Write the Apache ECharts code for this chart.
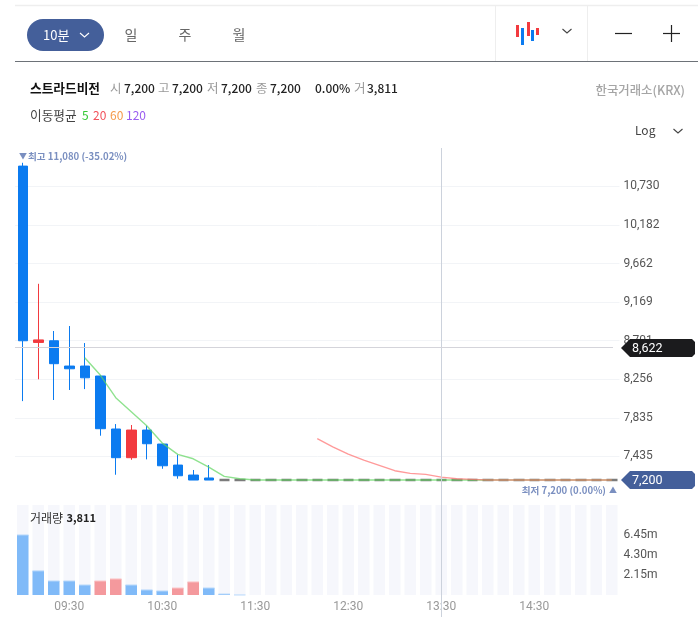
<!DOCTYPE html>
<html>
<head>
<meta charset="utf-8">
<style>html,body{margin:0;padding:0;background:#fff}#c{width:698px;height:617px}</style>
<script src="https://cdn.jsdelivr.net/npm/echarts@6/dist/echarts.min.js"></script>
</head>
<body>
<div id="c"></div>
<script>
const times = ['09:00','09:10','09:20','09:30','09:40','09:50','10:00','10:10','10:20','10:30','10:40','10:50','11:00','11:10','11:20','11:30','11:40','11:50','12:00','12:10','12:20','12:30','12:40','12:50','13:00','13:10','13:20','13:30','13:40','13:50','14:00','14:10','14:20','14:30','14:40','14:50','15:00','15:10','15:20'];
const opens  = [11030,8680,8700,8406,8406,8293,7717,7422,7706,7561,7348,7249,7220];
const closes = [8700,8710,8433,8375,8273,7720,7422,7706,7564,7341,7242,7200,7200];
const lows   = [8015,8256,8027,8137,8147,7647,7252,7401,7405,7311,7213,7200,7200];
const highs  = [11080,9400,8816,8876,8673,8300,7769,7759,7751,7561,7452,7299,7348];
const flatPrices = [null,null,null,null,null,null,null,null,null,null,null,null,null,7200,7200,7200,7200,7200,7200,7200,7200,7200,7200,7200,7200,7200,7200,7200,7200,7200,7200,7200,7200,7200,7200,7200,7200,7200,7200];
const ma5  = [null,null,null,null,8502,8304,8052,7900,7751,7571,7456,7411,7328,7236,7213,7200,7200,7200,7200,7200,7200,7200,7200,7200,7200,7200,7200,7200,7200,7200,7200,7200,7200,7200,7200,7200,7200,7200,7200];
const ma20 = [null,null,null,null,null,null,null,null,null,null,null,null,null,null,null,null,null,null,null,7616,7533,7459,7398,7345,7292,7266,7256,7229,7213,7207,7200,7200,7200,7200,7200,7200,7200,7200,7200];
const volumes = [6430000,2580000,1500000,1500000,1070000,1500000,1720000,1070000,540000,430000,750000,1400000,750000,100000,3811];
const volumeUp = [0,0,0,0,0,1,1,0,0,0,1,1,0,0,0];
const priceTicks = [10730,10182,9662,9169,8701,8256,7835,7435];
const volumeTicks = [2150000,4300000,6450000];
const crossTime = '13:30';
const crossPrice = 8622;
const lastPrice = 7200;

const FONT = 'Roboto, "Noto Sans CJK KR", sans-serif';
const KFONT = '"Noto Sans CJK KR", Roboto, sans-serif';
const fmt = v => Math.round(v).toLocaleString('en-US');

function txt(x, y, text, fill, size, weight, align) {
  return {type:'text', z:50, silent:true, style:{x, y, text, fill, font:(weight||400)+' '+size+'px '+KFONT, textAlign:align||'left', textVerticalAlign:'middle'}};
}
function line(x1,y1,x2,y2,stroke,w){
  return {type:'line', z:50, silent:true, shape:{x1,y1,x2,y2}, style:{stroke, lineWidth:w||1}};
}
function chevron(x,y,stroke){
  return {type:'polyline', z:50, silent:true, shape:{points:[[x-4.5,y-2],[x,y+2],[x+4.5,y-2]]}, style:{stroke, lineWidth:1.1, fill:null}};
}
function bar(x,y,w,h,fill){
  return {type:'rect', z:50, silent:true, shape:{x,y,width:w,height:h}, style:{fill}};
}

const chrome = [
  line(15,5.5,698,5.5,'#eeeeee',1.5),
  line(15,61.5,698,61.5,'#6d7278',1.2),
  line(495.5,6,495.5,61,'#eeeeee',1),
  line(587.5,6,587.5,61,'#eeeeee',1),
  {type:'rect', z:50, silent:true, shape:{x:27,y:19,width:77,height:32,r:16}, style:{fill:'#445f9a'}},
  txt(43,35,'10분','#ffffff',13,400),
  chevron(84.5,35,'#ffffff'),
  txt(131,35,'일','#666666',14,400,'center'),
  txt(185,35,'주','#666666',14,400,'center'),
  txt(239,35,'월','#666666',14,400,'center'),
  bar(516,25,3,12,'#f23a3f'), bar(521,28,3,17,'#0b7bf0'), bar(527,22,3,14,'#f23a3f'), bar(531,30,3,11,'#0b7bf0'), bar(536,28,3,7,'#f23a3f'),
  chevron(567,31,'#444444'),
  line(615,33.5,632,33.5,'#222222',1.2),
  line(663,33.5,680,33.5,'#222222',1.2),
  line(671.5,25,671.5,42,'#222222',1.2),
  txt(30,88,'스트라드비전','#111111',12.7,700),
  txt(110,88,'시','#999999',12.5), txt(124,88,'7,200','#222222',12,500),
  txt(158,88,'고','#999999',12.5), txt(172,88,'7,200','#222222',12,500),
  txt(207,88,'저','#999999',12.5), txt(221,88,'7,200','#222222',12,500),
  txt(256,88,'종','#999999',12.5), txt(270,88,'7,200','#222222',12,500),
  txt(315,88,'0.00%','#222222',12,500),
  txt(354,88,'거','#999999',12.5), txt(367,88,'3,811','#222222',12,500),
  txt(685,90,'한국거래소(KRX)','#a5a5a5',12.4,500,'right'),
  txt(30,115,'이동평균','#444444',12.7),
  txt(82,115,'5','#35c935',12), txt(93,115,'20','#f2505a',12), txt(110,115,'60','#f59a4a',12), txt(126,115,'120','#9a5cf0',12),
  txt(635,130,'Log','#444444',12),
  chevron(678,131,'#444444'),
  txt(19,156,'▼','#7a8fc0',8,700),
  txt(28,156,'최고 11,080 (-35.02%)','#7a8fc0',9.6,700),
  txt(606,490,'최저 7,200 (0.00%)','#7a8fc0',9.6,700,'right'),
  txt(609,490,'▲','#7a8fc0',8,700),
  {type:'text', z:50, silent:true, style:{x:30,y:518,text:'{a|거래량} {b|3,811}', textVerticalAlign:'middle', rich:{a:{fill:'#333333',font:'400 12px '+KFONT},b:{fill:'#222222',font:'700 11px '+KFONT}}}}
];

const chart = echarts.init(document.getElementById('c'), null, {renderer:'canvas'});
chart.setOption({
  animation:false,
  backgroundColor:'#ffffff',
  textStyle:{fontFamily:FONT},
  grid:[
    {left:15, width:604.5, top:150, height:347},
    {left:15, width:604.5, top:505, height:90}
  ],
  xAxis:[
    {type:'category', data:times, gridIndex:0, show:false, boundaryGap:true},
    {type:'category', data:times, gridIndex:1, boundaryGap:true,
     axisLine:{show:false}, axisTick:{show:false},
     axisLabel:{color:'#999999', fontSize:12, margin:6, fontFamily:FONT, interval:(i,v)=>v.endsWith(':30')}}
  ],
  yAxis:[
    {type:'log', logBase:10, gridIndex:0, min:7036, max:11274, position:'right',
     axisLine:{show:false},
     axisTick:{show:false, customValues:priceTicks},
     splitLine:{show:true, lineStyle:{color:'#f2f4f7', width:1}},
     axisLabel:{show:true, customValues:priceTicks, color:'#555555', fontSize:12, margin:4, fontFamily:FONT, formatter:fmt}},
    {type:'value', gridIndex:1, min:0, max:9640000, position:'right',
     axisLine:{show:false}, splitLine:{show:false},
     axisTick:{show:false, customValues:volumeTicks},
     axisLabel:{customValues:volumeTicks, color:'#555555', fontSize:12, margin:4, fontFamily:FONT, formatter:v=>(v/1e6).toFixed(2)+'m'}}
  ],
  series:[
    {name:'price', type:'candlestick', xAxisIndex:0, yAxisIndex:0, barWidth:10, z:3,
     data:opens.map((o,i)=>[o,closes[i],lows[i],highs[i]]),
     itemStyle:{color:'#f23a3f', color0:'#0b7bf0', borderColor:'#f23a3f', borderColor0:'#0b7bf0', borderWidth:1}},
    {name:'flat', type:'candlestick', xAxisIndex:0, yAxisIndex:0, barWidth:11, z:3,
     data:flatPrices.map(p=>p==null?['-','-','-','-']:[p,p,p,p]),
     itemStyle:{color:'#7b7b7b', color0:'#7b7b7b', borderColor:'#7b7b7b', borderColor0:'#7b7b7b', borderColorDoji:'#7b7b7b', borderWidth:2.5}},
    {name:'MA5', type:'line', xAxisIndex:0, yAxisIndex:0, data:ma5, showSymbol:false, symbol:'none', z:4,
     lineStyle:{color:'#5fd65f', width:1.4, opacity:0.7}},
    {name:'MA20', type:'line', xAxisIndex:0, yAxisIndex:0, data:ma20, showSymbol:false, symbol:'none', z:4,
     lineStyle:{color:'#ff6f6f', width:1.4, opacity:0.7}},
    {name:'volume', type:'bar', xAxisIndex:1, yAxisIndex:1, barWidth:11.5, z:2,
     showBackground:true, backgroundStyle:{color:'#f6f7fc'},
     data:times.map((t,i)=>({value:i<volumes.length?volumes[i]:0, itemStyle:{color:volumeUp[i]?'#f4999d':'#80baf8'}}))},
    {name:'volumeCap', type:'scatter', xAxisIndex:1, yAxisIndex:1, symbol:'rect', symbolSize:[11.5,1], z:3,
     data:volumes.map((v,i)=>({value:[times[i],v], itemStyle:{color:volumeUp[i]?'#fbc8ca':'#b8d9fb', opacity:1}}))}
  ],
  graphic:chrome
});

function tag(y, fill, label){
  return {type:'group', z:60, silent:true, children:[
    {type:'polygon', z:60, shape:{points:[[621,y],[630,y-9],[692,y-9],[695,y-6],[695,y+6],[692,y+9],[630,y+9]]}, style:{fill}},
    {type:'text', z:61, style:{x:632,y:y+0.5,text:label,fill:'#ffffff',font:'400 12.5px '+FONT,textVerticalAlign:'middle'}}
  ]};
}
const cx = chart.convertToPixel({xAxisIndex:0}, crossTime);
const cy = chart.convertToPixel({yAxisIndex:0}, crossPrice);
const ly = chart.convertToPixel({yAxisIndex:0}, lastPrice);
chart.setOption({graphic:chrome.concat([
  line(Math.round(cx)+0.5,148,Math.round(cx)+0.5,617,'#ccd2dc',1),
  line(15,Math.round(cy)+0.5,613,Math.round(cy)+0.5,'#d4d4da',1),
  tag(cy+0.5,'#1b1b1d',fmt(crossPrice)),
  tag(ly,'#445f9a',fmt(lastPrice))
])}, {replaceMerge:['graphic']});
</script>
</body>
</html>
